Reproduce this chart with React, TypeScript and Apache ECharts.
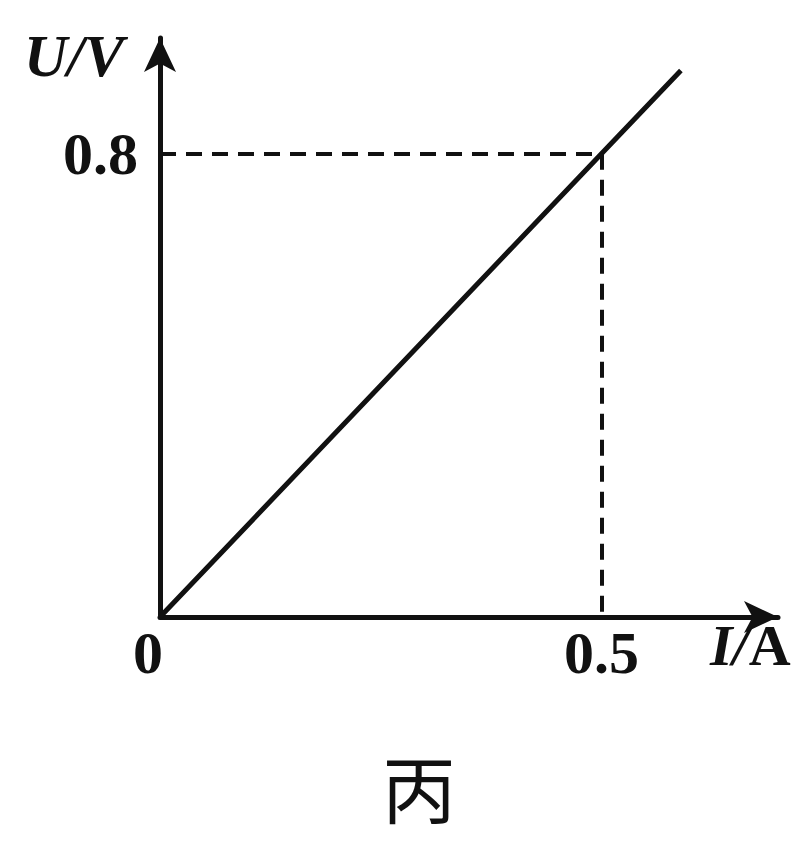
import React, { useEffect, useRef } from "react";
import * as echarts from "echarts";

const currentI = [0, 0.5, 0.59];
const voltageU = [0, 0.8, 0.944];
const markI = 0.5;
const markU = 0.8;
const xTickValues = [0, 0.5];
const yTickValues = [0.8];
const xName = "I/A";
const yName = "U/V";
const caption = "丙";

export default function App() {
  const ref = useRef<HTMLDivElement>(null);
  useEffect(() => {
    document.body.style.margin = "0";
    const chart = echarts.init(ref.current!, null, { renderer: "svg" });
    const serif = "Liberation Serif";
    chart.setOption({
      animation: false,
      backgroundColor: "#fff",
      grid: { left: 160, right: 23, top: 38, bottom: 224 },
      xAxis: {
        type: "value",
        min: 0,
        max: 0.7,
        splitLine: { show: false },
        axisTick: { show: false },
        axisLine: {
          onZero: false,
          symbol: ["none", "arrow"],
          symbolSize: [24, 34],
          lineStyle: { color: "#111", width: 5 },
        },
        axisLabel: {
          customValues: xTickValues,
          color: "#111",
          fontFamily: serif,
          fontWeight: "bold",
          fontSize: 60,
          margin: 6,
          formatter: (v: number) => (v === 0 ? "{z|0}" : String(v)),
          rich: { z: { fontFamily: serif, fontWeight: "bold", fontSize: 60, padding: [0, 24, 0, 0], color: "#111" } },
        },
      },
      yAxis: {
        type: "value",
        min: 0,
        max: 1,
        splitLine: { show: false },
        axisTick: { show: false },
        axisLine: {
          onZero: false,
          symbol: ["none", "arrow"],
          symbolSize: [24, 34],
          lineStyle: { color: "#111", width: 5 },
        },
        axisLabel: {
          customValues: yTickValues,
          color: "#111",
          fontFamily: serif,
          fontWeight: "bold",
          fontSize: 60,
          margin: 22,
          formatter: (v: number) => String(v),
        },
      },
      series: [
        {
          type: "line",
          data: currentI.map((x, i) => [x, voltageU[i]]),
          symbol: "none",
          lineStyle: { color: "#111", width: 5 },
          markLine: {
            silent: true,
            symbol: "none",
            label: { show: false },
            lineStyle: { color: "#111", width: 4, type: [16, 10] },
            data: [
              [{ coord: [0, markU] }, { coord: [markI, markU] }],
              [{ coord: [markI, markU] }, { coord: [markI, 0] }],
            ],
          },
        },
      ],
      graphic: [
        {
          type: "text",
          left: 24,
          top: 26,
          style: {
            text: "{i|" + yName + "}",
            rich: { i: { fontFamily: serif, fontStyle: "italic", fontWeight: "bold", fontSize: 60, fill: "#111" } },
          },
        },
        {
          type: "text",
          left: 710,
          top: 616,
          style: {
            text: "{i|" + xName.split("/")[0] + "/}{a|" + xName.split("/")[1] + "}",
            rich: {
              i: { fontFamily: serif, fontStyle: "italic", fontWeight: "bold", fontSize: 58, fill: "#111" },
              a: { fontFamily: serif, fontWeight: "bold", fontSize: 58, fill: "#111" },
            },
          },
        },
        {
          type: "text",
          left: 382,
          top: 748,
          style: { text: caption, fontFamily: "Noto Sans CJK SC", fontSize: 74, fill: "#111" },
        },
      ],
    });
    return () => chart.dispose();
  }, []);
  return <div ref={ref} style={{ width: 801, height: 841 }} />;
}
